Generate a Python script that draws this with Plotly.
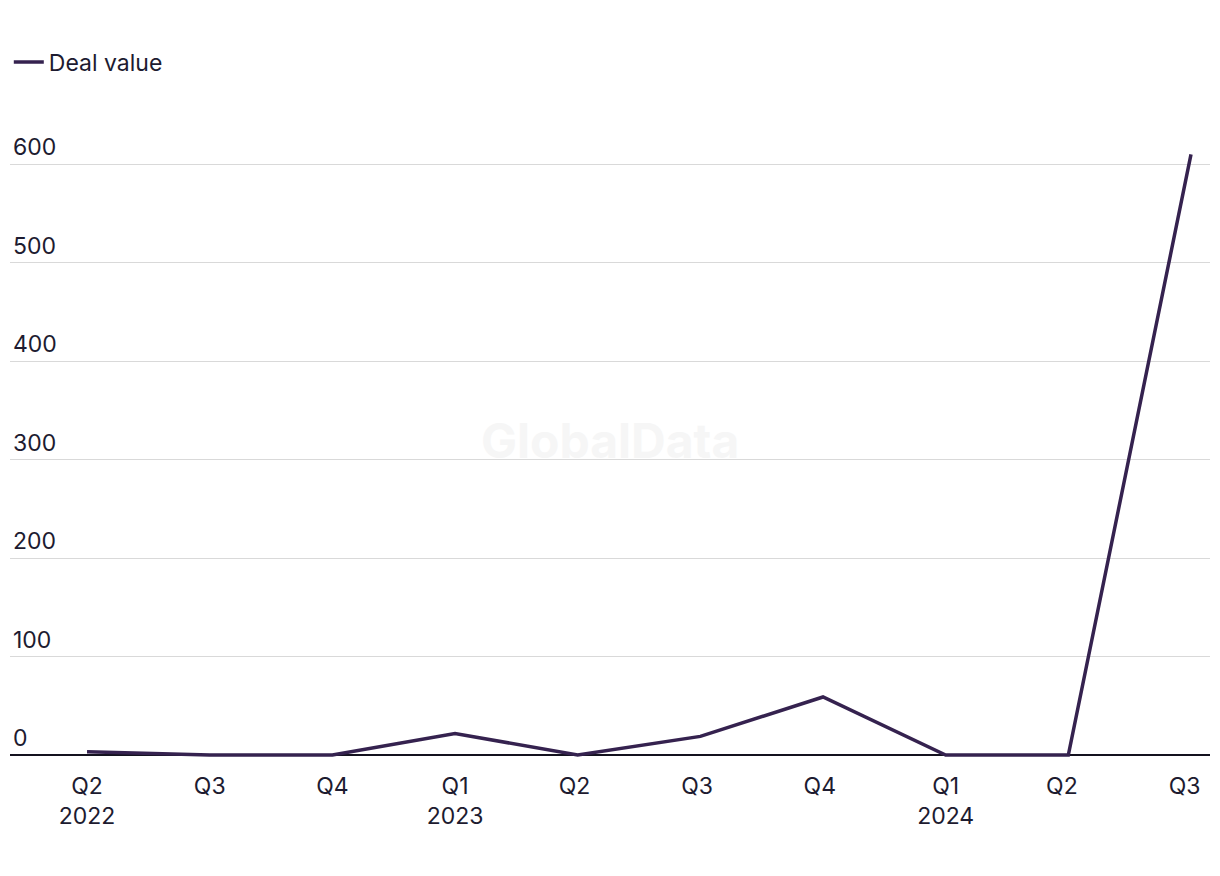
import plotly.graph_objects as go

quarters = ["Q2<br>2022", "Q3", "Q4", "Q1<br>2023", "Q2 ", "Q3 ", "Q4 ", "Q1<br>2024", "Q2  ", "Q3  "]
deal_value = [3.5, 0, 0, 22, 0, 19, 59, 0, 0, 610]
y_ticks = [0, 100, 200, 300, 400, 500, 600]

line_color = "#35224f"
text_color = "#1d1b30"

fig = go.Figure()
fig.add_trace(go.Scatter(
    x=list(range(len(quarters))), y=deal_value, mode="lines", name="Deal value",
    line=dict(color=line_color, width=3.5),
))

fig.add_annotation(
    text="GlobalData", xref="paper", yref="paper", x=0.5, y=0.495,
    showarrow=False, font=dict(family="Inter", size=48, color="#f6f6f6", weight="bold"),
)

fig.update_layout(
    width=1220, height=876,
    margin=dict(l=2, r=18, t=107, b=124, autoexpand=False),
    paper_bgcolor="white", plot_bgcolor="white",
    font=dict(family="Inter", size=23, color=text_color),
    showlegend=True,
    legend=dict(orientation="h", x=-0.001, xanchor="left", y=1.082, yanchor="middle",
                font=dict(size=23, color=text_color), bgcolor="rgba(0,0,0,0)"),
    xaxis=dict(
        tickmode="array", tickvals=list(range(len(quarters))), ticktext=quarters,
        range=[-0.628, 9.155], showgrid=False, zeroline=False, showline=False,
        ticks="", tickfont=dict(size=23, color=text_color), automargin=False,
        ticklabelstandoff=10,
    ),
    yaxis=dict(
        tickmode="array", tickvals=y_ticks, ticktext=[str(v) for v in y_ticks],
        range=[-5, 650], showgrid=True, gridcolor="#d9d9d9", gridwidth=1.2,
        zeroline=True, zerolinecolor="#14121f", zerolinewidth=2,
        showline=False, ticks="", ticklabelposition="inside", ticklabelshift=-17,
        ticklabelstandoff=0, automargin=False,
        tickfont=dict(size=23, color=text_color),
    ),
)

fig.write_html("out.html")
